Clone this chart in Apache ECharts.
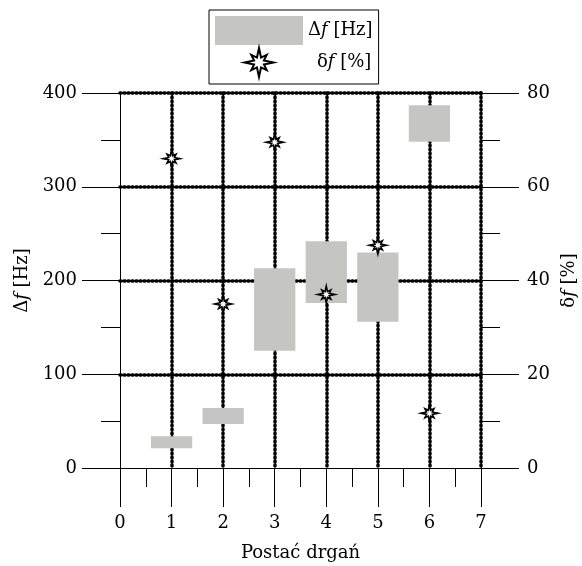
<!DOCTYPE html>
<html>
<head>
<meta charset="utf-8">
<script src="https://cdn.jsdelivr.net/npm/echarts@6/dist/echarts.min.js"></script>
<style>
  html, body { margin: 0; padding: 0; background: #fff; }
  #chart { width: 582px; height: 566px; }
</style>
</head>
<body>
<div id="chart"></div>
<script>
// mode shapes (Postać drgań)
const modes = [1, 2, 3, 4, 5, 6];
// frequency range per mode, Hz
const dfLow = [21, 47, 125, 176, 156, 348];
const dfHigh = [34, 64, 213, 242, 230, 387];
// relative difference, %
const dfPct = [66, 35, 69.5, 37, 47.5, 11.7];

const xTicks = [0, 1, 2, 3, 4, 5, 6, 7];

const FONT = 'DejaVu Serif';
// 8-point star, long axial spikes
const STAR = 'path://M10,0 L11.4,6.6 L15.3,4.7 L13.4,8.6 L20,10 L13.4,11.4 L15.3,15.3 L11.4,13.4 L10,20 L8.6,13.4 L4.7,15.3 L6.6,11.4 L0,10 L6.6,8.6 L4.7,4.7 L8.6,6.6 Z';
const BAR_HALF = 0.4;

const dotted = { color: '#000', width: 3.5, type: [1, 3], cap: 'round' };
const italic = { f: { fontStyle: 'italic', fontFamily: FONT, fontSize: 18 }, t: { fontFamily: FONT, fontSize: 18 } };

const rangeData = modes.map((m, i) => [m, dfLow[i], dfHigh[i]]);
const pctData = modes.map((m, i) => [m, dfPct[i]]);

const chart = echarts.init(document.getElementById('chart'));
chart.setOption({
  animation: false,
  backgroundColor: '#fff',
  textStyle: { fontFamily: FONT, color: '#000' },
  grid: { left: 120, right: 101, top: 93, bottom: 98, outerBoundsMode: 'none', containLabel: false },
  legend: {
    orient: 'vertical',
    left: 209, top: 10,
    padding: [6, 6, 6, 6],
    itemWidth: 88, itemHeight: 29, itemGap: 2,
    borderColor: '#000', borderWidth: 1,
    data: [
      { name: 'Δf [Hz]', icon: 'rect' },
      { name: 'δf [%]', icon: STAR, itemStyle: { color: '#fff', borderColor: '#000', borderWidth: 2 } }
    ],
    formatter: n => n === 'Δf [Hz]' ? '{t|Δ}{f|f}{t| [Hz]}' : '{p|δ}{f|f}{t| [%]}',
    textStyle: {
      fontFamily: FONT, fontSize: 18, color: '#000',
      rich: Object.assign({ p: { fontFamily: FONT, fontSize: 18, padding: [0, 0, 0, 9] } }, italic)
    }
  },
  xAxis: {
    type: 'value', min: 0, max: 7, interval: 1,
    name: 'Postać drgań', nameLocation: 'middle', nameGap: 76,
    nameTextStyle: { fontFamily: FONT, fontSize: 18, color: '#000' },
    axisLine: { show: true, lineStyle: { color: '#000', width: 1 } },
    axisTick: { show: true, length: 39, lineStyle: { color: '#000' } },
    minorTick: { show: true, splitNumber: 2, length: 19, lineStyle: { color: '#000' } },
    axisLabel: { margin: 46, fontFamily: FONT, fontSize: 18, color: '#000', formatter: v => xTicks.includes(v) ? String(v) : '' },
    splitLine: { show: true, showMinLine: false, lineStyle: dotted }
  },
  yAxis: [
    {
      type: 'value', min: 0, max: 400, interval: 100, position: 'left',
      name: '{t|Δ}{f|f}{t| [Hz]}', nameLocation: 'middle', nameGap: 88, nameRotate: 90,
      nameTextStyle: { rich: italic },
      axisLine: { show: true, lineStyle: { color: '#000', width: 1 } },
      axisTick: { show: true, length: 38, lineStyle: { color: '#000' } },
      minorTick: { show: true, splitNumber: 2, length: 19, lineStyle: { color: '#000' } },
      axisLabel: { margin: 43, fontFamily: FONT, fontSize: 18, color: '#000' },
      splitLine: { show: true, showMinLine: false, lineStyle: dotted }
    },
    {
      type: 'value', min: 0, max: 80, interval: 20, position: 'right',
      name: '{t|δ}{f|f}{t| [%]}', nameLocation: 'middle', nameGap: 74, nameRotate: 90,
      nameTextStyle: { rich: italic },
      axisLine: { show: true, lineStyle: { color: '#000', width: 1 } },
      axisTick: { show: true, length: 38, lineStyle: { color: '#000' } },
      minorTick: { show: true, splitNumber: 2, length: 19, lineStyle: { color: '#000' } },
      axisLabel: { margin: 46, fontFamily: FONT, fontSize: 18, color: '#000' },
      splitLine: { show: false }
    }
  ],
  series: [
    {
      name: 'Δf [Hz]',
      type: 'custom',
      xAxisIndex: 0, yAxisIndex: 0,
      itemStyle: { color: '#c5c5c3' },
      data: rangeData,
      encode: { x: 0, y: [1, 2] },
      renderItem: (params, api) => {
        const x = api.value(0);
        const p1 = api.coord([x - BAR_HALF, api.value(2)]);
        const p2 = api.coord([x + BAR_HALF, api.value(1)]);
        return {
          type: 'rect',
          shape: { x: p1[0], y: p1[1], width: p2[0] - p1[0], height: p2[1] - p1[1] },
          style: { fill: '#c5c5c3' }
        };
      },
      z: 3
    },
    {
      name: 'δf [%]',
      type: 'scatter',
      xAxisIndex: 0, yAxisIndex: 1,
      symbol: STAR, symbolSize: 17,
      itemStyle: { color: '#fff', borderColor: '#000', borderWidth: 1.6, opacity: 1 },
      data: pctData,
      z: 5
    }
  ]
});
</script>
</body>
</html>
